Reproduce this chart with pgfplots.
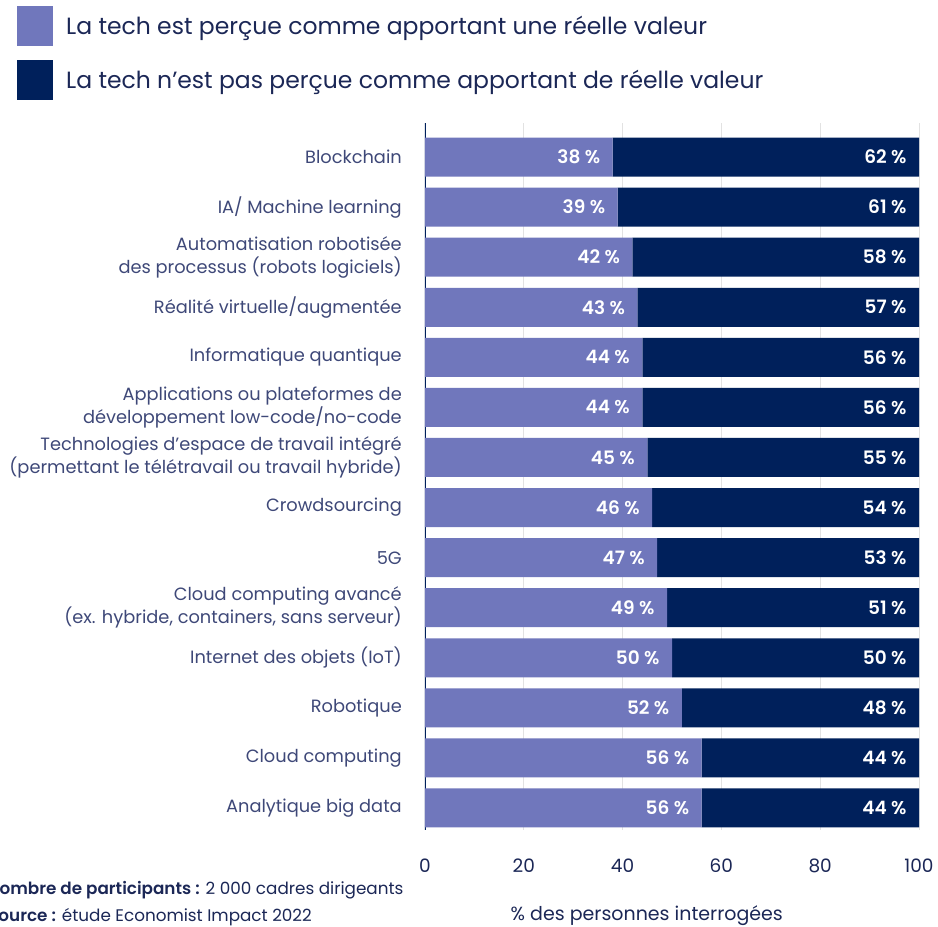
\documentclass[border=0pt]{standalone}
\usepackage{fontspec}
\setmainfont{Poppins}[BoldFont={Poppins SemiBold}]
\usepackage{pgfplots}
\pgfplotsset{compat=1.18}

\definecolor{lightbar}{HTML}{7077BC}
\definecolor{darkbar}{HTML}{00205B}
\definecolor{labeltxt}{HTML}{3E4878}
\definecolor{navytxt}{HTML}{1B2756}
\definecolor{gridc}{HTML}{E2E2E2}

\begin{document}
\begin{tikzpicture}[x=1pt,y=1pt]
\useasboundingbox (0,0) rectangle (938,927);
\begin{axis}[
    at={(425pt,97pt)}, anchor=south west,
    scale only axis, width=494pt, height=707pt,
    xbar stacked, bar width=39pt,
    xmin=0, xmax=100, ymin=-0.44, ymax=13.68,
    xtick={0,20,40,60,80,100},
    ytick={0,...,13},
    yticklabels={
        {Analytique big data},
        {Cloud computing},
        {Robotique},
        {Internet des objets (IoT)},
        {Cloud computing avancé\\(ex. hybride, containers, sans serveur)},
        {5G},
        {Crowdsourcing},
        {Technologies d’espace de travail intégré\\(permettant le télétravail ou travail hybride)},
        {Applications ou plateformes de\\développement low-code/no-code},
        {Informatique quantique},
        {Réalité virtuelle/augmentée},
        {Automatisation robotisée\\des processus (robots logiciels)},
        {IA/ Machine learning},
        {Blockchain}},
    axis line style={draw=none},
    major tick length=0pt,
    xmajorgrids, grid style={gridc, line width=0.8pt},
    /pgf/number format/assume math mode=true,
    yticklabel style={align=right, anchor=east, inner sep=0pt, xshift=-23pt,
        text=labeltxt, font=\fontsize{17.8}{23}\selectfont},
    xticklabel style={anchor=north, inner sep=0pt, yshift=-29pt,
        text=navytxt, font=\fontsize{18.5}{20}\selectfont},
    xlabel={\% des personnes interrogées},
    xlabel style={at={(axis description cs:0.449,-0.1216)}, anchor=center,
        text=navytxt, font=\fontsize{19}{20}\selectfont},
    point meta=explicit,
    visualization depends on={rawx \as \rawx},
    nodes near coords={\pgfmathprintnumber{\pgfplotspointmeta}~\%},
    every node near coord/.append style={anchor=east, xshift={\rawx*2.47pt-9pt},
        text=white, font=\bfseries\fontsize{18.5}{20}\selectfont},
    legend style={at={(axis description cs:-0.8259,1.1655)}, anchor=north west,
        draw=none, fill=none, inner sep=0pt, row sep=14pt,
        nodes={inner sep=0pt, anchor=west, text=navytxt},
        font=\fontsize{23.5}{26}\selectfont,
        /tikz/every odd column/.style={column sep=13pt}},
    legend cell align=left,
    legend image code/.code={\fill[#1, draw=none] (0pt,-20pt) rectangle (36pt,20pt);},
]
\addplot[fill=lightbar, draw=none] coordinates {
    (56,0) [56] (56,1) [56] (52,2) [52] (50,3) [50] (49,4) [49]
    (47,5) [47] (46,6) [46] (45,7) [45] (44,8) [44] (44,9) [44]
    (43,10) [43] (42,11) [42] (39,12) [39] (38,13) [38]
};
\addlegendentry{La tech est perçue comme apportant une réelle valeur}
\addplot[fill=darkbar, draw=none] coordinates {
    (44,0) [44] (44,1) [44] (48,2) [48] (50,3) [50] (51,4) [51]
    (53,5) [53] (54,6) [54] (55,7) [55] (56,8) [56] (56,9) [56]
    (57,10) [57] (58,11) [58] (61,12) [61] (62,13) [62]
};
\addlegendentry{La tech n’est pas perçue comme apportant de réelle valeur}
\draw[darkbar, line width=1.3pt] (axis cs:0,-0.44) -- (axis cs:0,13.68);
\end{axis}
\node[anchor=base west, inner sep=0pt, text=navytxt, font=\fontsize{16.8}{18}\selectfont]
    at (-13,32) {\textbf{Nombre de participants :} 2 000 cadres dirigeants};
\node[anchor=base west, inner sep=0pt, text=navytxt, font=\fontsize{16.8}{18}\selectfont]
    at (-12,5) {\textbf{Source :} étude Economist Impact 2022};
\end{tikzpicture}
\end{document}
